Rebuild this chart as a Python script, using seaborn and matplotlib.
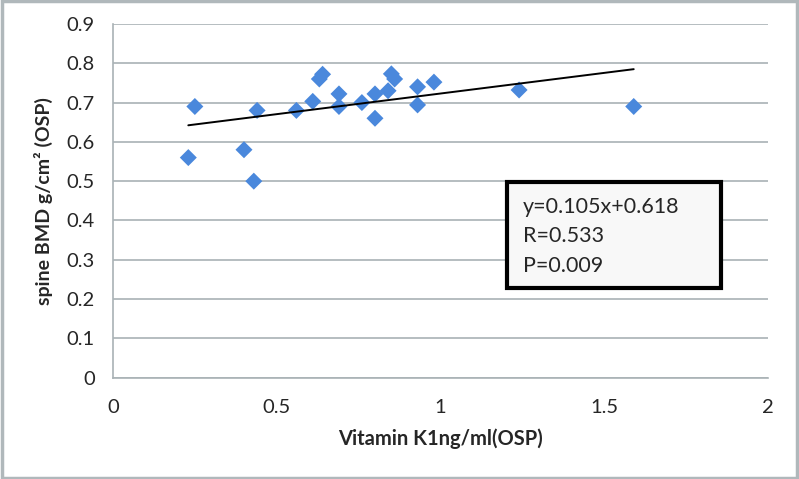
import numpy as np
import pandas as pd
import matplotlib
matplotlib.use("Agg")
import matplotlib.pyplot as plt
import seaborn as sns
from matplotlib.patches import Rectangle

# Werte
vitamin_k1 = [0.23, 0.25, 0.40, 0.43, 0.44, 0.56, 0.61, 0.63, 0.64, 0.69, 0.69,
              0.76, 0.80, 0.80, 0.84, 0.85, 0.86, 0.93, 0.93, 0.98, 1.24, 1.59]
spine_bmd = [0.56, 0.69, 0.58, 0.50, 0.68, 0.68, 0.703, 0.76, 0.772, 0.722, 0.69,
             0.70, 0.722, 0.66, 0.73, 0.773, 0.76, 0.74, 0.694, 0.752, 0.732, 0.69]

# Trendlinie laut Gleichung im Kasten
slope = 0.105
intercept = 0.618
stats_lines = ["y=0.105x+0.618", "R=0.533", "P=0.009"]

x_ticks = [0, 0.5, 1, 1.5, 2]
x_tick_labels = ["0", "0.5", "1", "1.5", "2"]
y_ticks = [0, 0.1, 0.2, 0.3, 0.4, 0.5, 0.6, 0.7, 0.8, 0.9]
y_tick_labels = ["0", "0.1", "0.2", "0.3", "0.4", "0.5", "0.6", "0.7", "0.8", "0.9"]

df = pd.DataFrame({"k1": vitamin_k1, "bmd": spine_bmd})

sns.set_style("white")
plt.rcParams["font.family"] = ["Lato", "DejaVu Sans"]

grid_col = "#a9b2b5"

fig = plt.figure(figsize=(7.99, 4.79), dpi=100)
ax = fig.add_axes([0.1414, 0.2115, 0.8198, 0.7385])

sns.scatterplot(data=df, x="k1", y="bmd", marker="D", s=75, color="#4a88dc",
                edgecolor="none", ax=ax, zorder=3)

xs = np.array([min(vitamin_k1), max(vitamin_k1)])
ax.plot(xs, slope * xs + intercept, color="black", lw=1.4, zorder=4)

ax.set_xlim(0, 2)
ax.set_ylim(0, 0.9)
ax.set_xticks(x_ticks)
ax.set_xticklabels(x_tick_labels)
ax.set_yticks(y_ticks)
ax.set_yticklabels(y_tick_labels)

ax.grid(axis="y", color=grid_col, lw=1.2)
ax.set_axisbelow(True)
for side in ["top", "right"]:
    ax.spines[side].set_visible(False)
for side in ["left", "bottom"]:
    ax.spines[side].set_color(grid_col)
    ax.spines[side].set_linewidth(1.2)
ax.tick_params(axis="both", direction="out", length=7, width=1.2, color=grid_col,
               labelsize=14.5, pad=6)
ax.tick_params(axis="x", pad=8)

ax.set_xlabel("Vitamin K1ng/ml(OSP)", fontsize=14.5, fontweight="bold", labelpad=9)
ax.set_ylabel("spine BMD g/cm² (OSP)", fontsize=14, fontweight="bold", labelpad=10)

# Kasten mit Statistik
fig.patches.append(Rectangle((0.634, 0.398), 0.268, 0.2226, transform=fig.transFigure,
                             facecolor="#f8f8f8", edgecolor="black", lw=3, zorder=5))
for i, line in enumerate(stats_lines):
    fig.text(0.654, 1 - (206.7 + i * 29.5) / 479, line, fontsize=15.5, va="center",
             ha="left", zorder=6)

# grauer Rahmen um die ganze Grafik
fig.patches.append(Rectangle((0.002, 0.003), 0.996, 0.994, transform=fig.transFigure,
                             facecolor="none", edgecolor="#b0b8bb", lw=2.5))

fig.savefig("out.png", dpi=100)
